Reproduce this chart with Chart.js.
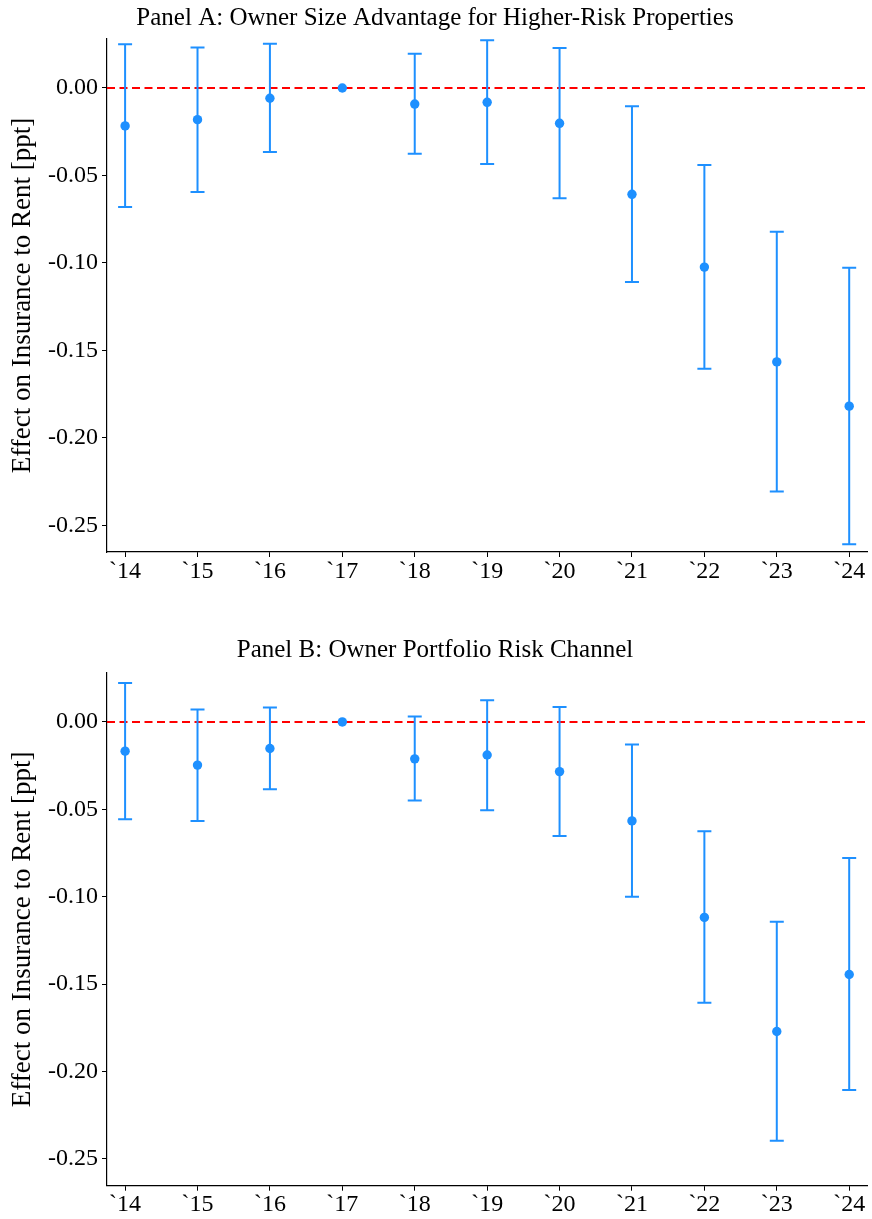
<!DOCTYPE html>
<html>
<head>
<meta charset="utf-8">
<script src="https://cdn.jsdelivr.net/npm/chart.js@4"></script>
<style>
  html, body { margin: 0; padding: 0; background: #fff; overflow: hidden; }
  #wrap-a { position: absolute; left: 0; top: 0; }
  #wrap-b { position: absolute; left: 0; top: 634px; }
</style>
</head>
<body>
<div id="wrap-a"><canvas id="panel-a" width="872" height="600"></canvas></div>
<div id="wrap-b"><canvas id="panel-b" width="872" height="585"></canvas></div>
<script>
// event-study coefficients with 95% bands, 2017 is the omitted base year
var years = ['`14', '`15', '`16', '`17', '`18', '`19', '`20', '`21', '`22', '`23', '`24'];
var yTicks = [0, -0.05, -0.10, -0.15, -0.20, -0.25];

var coefA = [-0.0217, -0.0181, -0.0059, 0, -0.0092, -0.0082, -0.0202, -0.0608, -0.1024, -0.1566, -0.1819];
var lowA  = [-0.0680, -0.0595, -0.0366, null, -0.0376, -0.0435, -0.0631, -0.1110, -0.1606, -0.2307, -0.2609];
var highA = [0.0250, 0.0231, 0.0253, null, 0.0196, 0.0273, 0.0229, -0.0105, -0.0441, -0.0822, -0.1028];

var coefB = [-0.0167, -0.0247, -0.0152, 0, -0.0211, -0.0189, -0.0284, -0.0566, -0.1118, -0.1771, -0.1445];
var lowB  = [-0.0556, -0.0566, -0.0385, null, -0.0449, -0.0505, -0.0653, -0.1000, -0.1606, -0.2396, -0.2106];
var highB = [0.0223, 0.0071, 0.0082, null, 0.0031, 0.0124, 0.0086, -0.0129, -0.0626, -0.1143, -0.0779];

var blue = '#1E90FF';
var serif = "'Liberation Serif', 'Times New Roman', serif";

// dashed zero line + vertical whiskers with caps, drawn under the points
var errorBars = {
    id: 'errorBars',
    beforeDatasetsDraw: function(chart, args, opts) {
        var ctx = chart.ctx;
        var xs = chart.scales.x, ys = chart.scales.y;
        var area = chart.chartArea;

        ctx.save();
        var y0 = ys.getPixelForValue(0);
        ctx.strokeStyle = '#ff0000';
        ctx.lineWidth = 2;
        ctx.setLineDash([8, 4.5]);
        ctx.beginPath();
        ctx.moveTo(area.left, y0);
        ctx.lineTo(area.right, y0);
        ctx.stroke();
        ctx.setLineDash([]);

        ctx.strokeStyle = blue;
        ctx.lineWidth = 2;
        for (var i = 0; i < opts.low.length; i++) {
            if (opts.low[i] === null) continue;
            var x = xs.getPixelForValue(i);
            var yl = ys.getPixelForValue(opts.low[i]);
            var yh = ys.getPixelForValue(opts.high[i]);
            ctx.beginPath();
            ctx.moveTo(x, yl); ctx.lineTo(x, yh);
            ctx.moveTo(x - 7, yl); ctx.lineTo(x + 7, yl);
            ctx.moveTo(x - 7, yh); ctx.lineTo(x + 7, yh);
            ctx.stroke();
        }
        ctx.restore();
    }
};

function makePanel(id, title, coef, low, high, titlePad, axisHeight) {
    var pts = coef.map(function(v, i) { return {x: i, y: v}; });
    return new Chart(document.getElementById(id), {
        type: 'scatter',
        data: {
            datasets: [{
                data: pts,
                pointRadius: 4.7,
                pointHoverRadius: 4.7,
                pointBackgroundColor: blue,
                pointBorderWidth: 0
            }]
        },
        plugins: [errorBars],
        options: {
            responsive: false,
            animation: false,
            events: [],
            layout: { padding: { left: 0, right: 2, top: 0, bottom: 0 } },
            plugins: {
                legend: { display: false },
                tooltip: { enabled: false },
                title: {
                    display: true,
                    text: title,
                    color: '#000',
                    font: { family: serif, size: 25, weight: 'normal' },
                    padding: titlePad
                },
                errorBars: { low: low, high: high }
            },
            scales: {
                x: {
                    type: 'linear',
                    min: -0.25,
                    max: 10.25,
                    afterBuildTicks: function(s) {
                        s.ticks = years.map(function(_, i) { return {value: i}; });
                    },
                    afterFit: function(s) { s.height = axisHeight; },
                    ticks: {
                        color: '#000',
                        font: { family: serif, size: 24 },
                        padding: 0,
                        maxRotation: 0,
                        autoSkip: false,
                        callback: function(v) { return years[v]; }
                    },
                    grid: { display: true, drawOnChartArea: false, drawTicks: true, tickLength: 5, color: '#000', tickWidth: 1 },
                    border: { display: true, color: '#000', width: 1.2 }
                },
                y: {
                    min: -0.2653,
                    max: 0.028,
                    afterBuildTicks: function(s) {
                        s.ticks = yTicks.map(function(v) { return {value: v}; });
                    },
                    afterFit: function(s) { s.width = 107; },
                    ticks: {
                        color: '#000',
                        font: { family: serif, size: 24 },
                        padding: 4,
                        callback: function(v) { return v.toFixed(2); }
                    },
                    grid: { display: true, drawOnChartArea: false, drawTicks: true, tickLength: 5, color: '#000', tickWidth: 1 },
                    border: { display: true, color: '#000', width: 1.2 },
                    title: {
                        display: true,
                        text: 'Effect on Insurance to Rent [ppt]',
                        color: '#000',
                        font: { family: serif, size: 27 },
                        padding: { top: 7, bottom: 0 }
                    }
                }
            }
        }
    });
}

makePanel('panel-a', 'Panel A: Owner Size Advantage for Higher-Risk Properties',
    coefA, lowA, highA, { top: 3, bottom: 6 }, 48);
makePanel('panel-b', 'Panel B: Owner Portfolio Risk Channel',
    coefB, lowB, highB, { top: 1, bottom: 8 }, 33.3);
</script>
</body>
</html>
